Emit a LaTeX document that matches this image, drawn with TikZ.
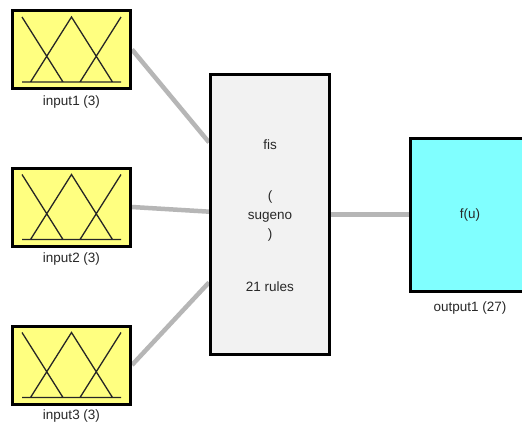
\documentclass[tikz,border=0pt]{standalone}
\usepackage{fontspec}
\setmainfont{Liberation Sans}
\usetikzlibrary{calc}
\definecolor{inyellow}{RGB}{255,255,128}
\definecolor{outcyan}{RGB}{128,255,255}
\definecolor{fisgray}{RGB}{242,242,242}
\definecolor{wiregray}{RGB}{182,182,182}
\definecolor{txt}{RGB}{40,40,40}
\pgfdeclarelayer{back}
\pgfdeclarelayer{bg}
\pgfsetlayers{back,bg,main}
\begin{document}
\begin{tikzpicture}[x=1pt,y=-1pt,
  lbl/.style={font=\fontsize{13.5}{16}\selectfont, text=txt, inner sep=0pt},
  inbox/.style={draw=black, line width=3pt, fill=inyellow, minimum width=118pt, minimum height=78pt, inner sep=0pt},
  fisbox/.style={draw=black, line width=3pt, fill=fisgray, minimum width=119pt, minimum height=280pt, inner sep=0pt},
  outbox/.style={draw=black, line width=3pt, fill=outcyan, minimum width=119pt, minimum height=153pt, inner sep=0pt, font=\fontsize{13.5}{16}\selectfont, text=txt},
  wire/.style={draw=wiregray, line width=4.5pt},
  mf/.style={draw=black!85, line width=1.3pt}]
\useasboundingbox (0,0) rectangle (522,426);
\clip (0,0) rectangle (522,426);
\begin{pgfonlayer}{back}
\fill[white] (0,0) rectangle (522,426);
\end{pgfonlayer}
% boxes
\node[inbox] (in1) at (71.5,49.5) {};
\node[inbox] (in2) at (71.5,207) {};
\node[inbox] (in3) at (71.5,365) {};
\node[fisbox] (fis) at (270,214.5) {};
\node[outbox] (out) at (470,215) {f(u)};
% membership functions
\foreach \n in {in1,in2,in3} {
  \draw[mf, shift={(\n.center)}]
    (-49.5,32.5) -- (49.5,32.5)
    (-49.5,-32.5) -- (-8.5,32.5)
    (-41,32.5) -- (0,-32.5) -- (41,32.5)
    (8.5,32.5) -- (49.5,-32.5);
}
% labels
\node[lbl] (l1) at (71.5,102) {input1 (3)};
\node[lbl] (l2) at (71.5,259) {input2 (3)};
\node[lbl] (l3) at (71.5,416) {input3 (3)};
\node[lbl] (lo) at (470,308) {output1 (27)};
\node[lbl] (f1) at (270,145) {fis};
\node[lbl] (f2) at (270,197) {(};
\node[lbl] (f3) at (270,217) {sugeno};
\node[lbl] (f4) at (270,235) {)};
\node[lbl] (f5) at (270,287) {21 rules};
% wires
\begin{pgfonlayer}{bg}
\draw[wire] (in1.east) -- ($(fis.north west)!0.245!(fis.south west)$);
\draw[wire] (in2.east) -- ($(fis.north west)!0.49!(fis.south west)$);
\draw[wire] (in3.east) -- ($(fis.north west)!0.74!(fis.south west)$);
\draw[wire] (fis.east) -- (fis.east -| out.west);
\end{pgfonlayer}
\end{tikzpicture}
\end{document}
